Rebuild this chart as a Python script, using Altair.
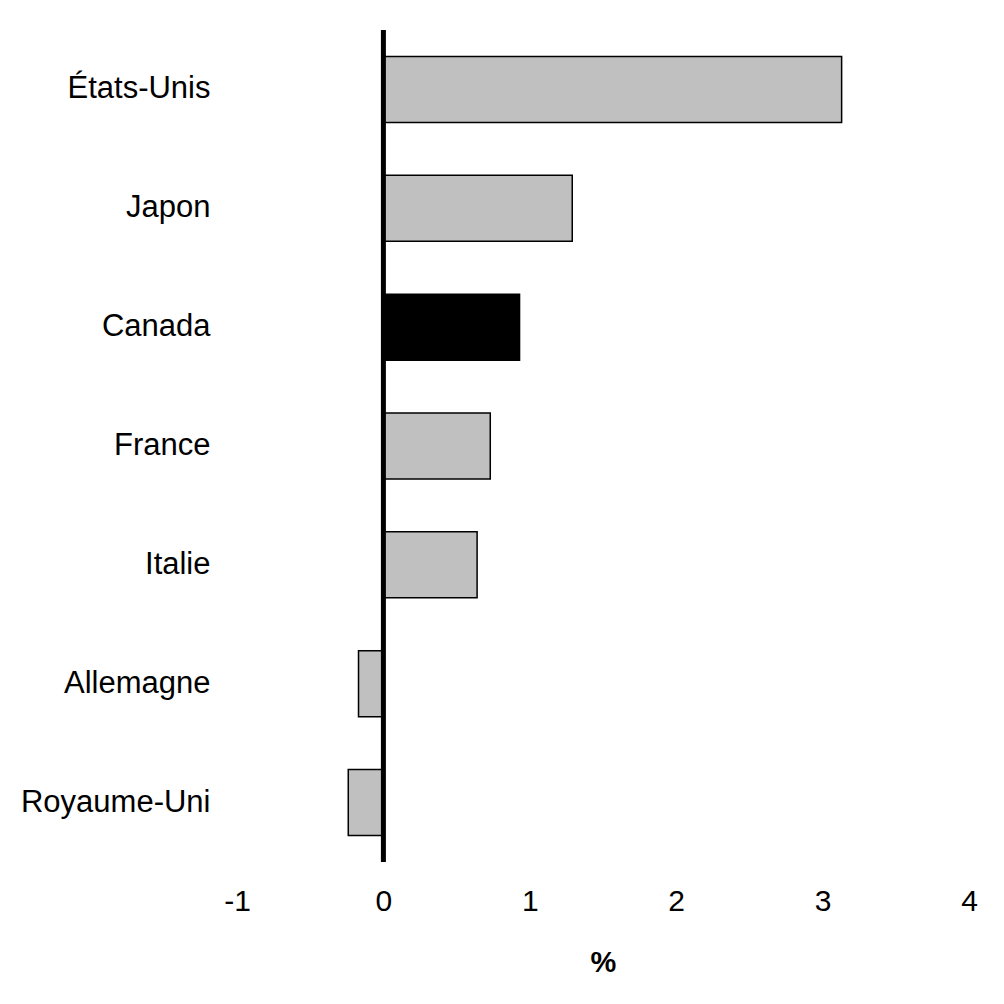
import altair as alt
import pandas as pd

countries = ["États-Unis", "Japon", "Canada", "France", "Italie", "Allemagne", "Royaume-Uni"]
values = [3.13, 1.29, 0.93, 0.73, 0.64, -0.17, -0.24]
colors = ["#c0c0c0", "#c0c0c0", "#000000", "#c0c0c0", "#c0c0c0", "#c0c0c0", "#c0c0c0"]
x_ticks = [-1, 0, 1, 2, 3, 4]

df = pd.DataFrame({"pays": countries, "val": values, "col": colors})

FONT = "Liberation Sans"

bars = alt.Chart(df).mark_bar(stroke="black", strokeWidth=1.5).encode(
    y=alt.Y("pays:N", sort=countries,
            scale=alt.Scale(paddingInner=0.445, paddingOuter=0.2225),
            axis=alt.Axis(title=None, domain=False, ticks=False, labelPadding=27,
                          labelLimit=400,
                          labelFontSize=31, labelFont=FONT, labelColor="black")),
    x=alt.X("val:Q", scale=alt.Scale(domain=[-1, 4], nice=False),
            axis=alt.Axis(values=x_ticks, title="%", domain=False, ticks=False, grid=False,
                          labelExpr="datum.value + ''", labelPadding=24,
                          labelFlush=False, labelOverlap=False,
                          labelFontSize=30, labelFont=FONT, labelColor="black",
                          titleFontSize=29, titleFont=FONT, titleFontWeight="bold",
                          titleColor="black", titlePadding=32)),
    color=alt.Color("col:N", scale=None),
)

zero = alt.Chart(pd.DataFrame({"z": [0]})).mark_rule(color="black", strokeWidth=5).encode(
    x=alt.X("z:Q")
)

chart = alt.layer(bars, zero).properties(
    width=732, height=832,
    autosize=alt.AutoSizeParams(type="none"),
    padding={"left": 229, "top": 22, "right": 27, "bottom": 130},
).configure_view(stroke=None).configure_axis(grid=False)

chart.save("out.html", embed_options={"renderer": "svg", "actions": False})
